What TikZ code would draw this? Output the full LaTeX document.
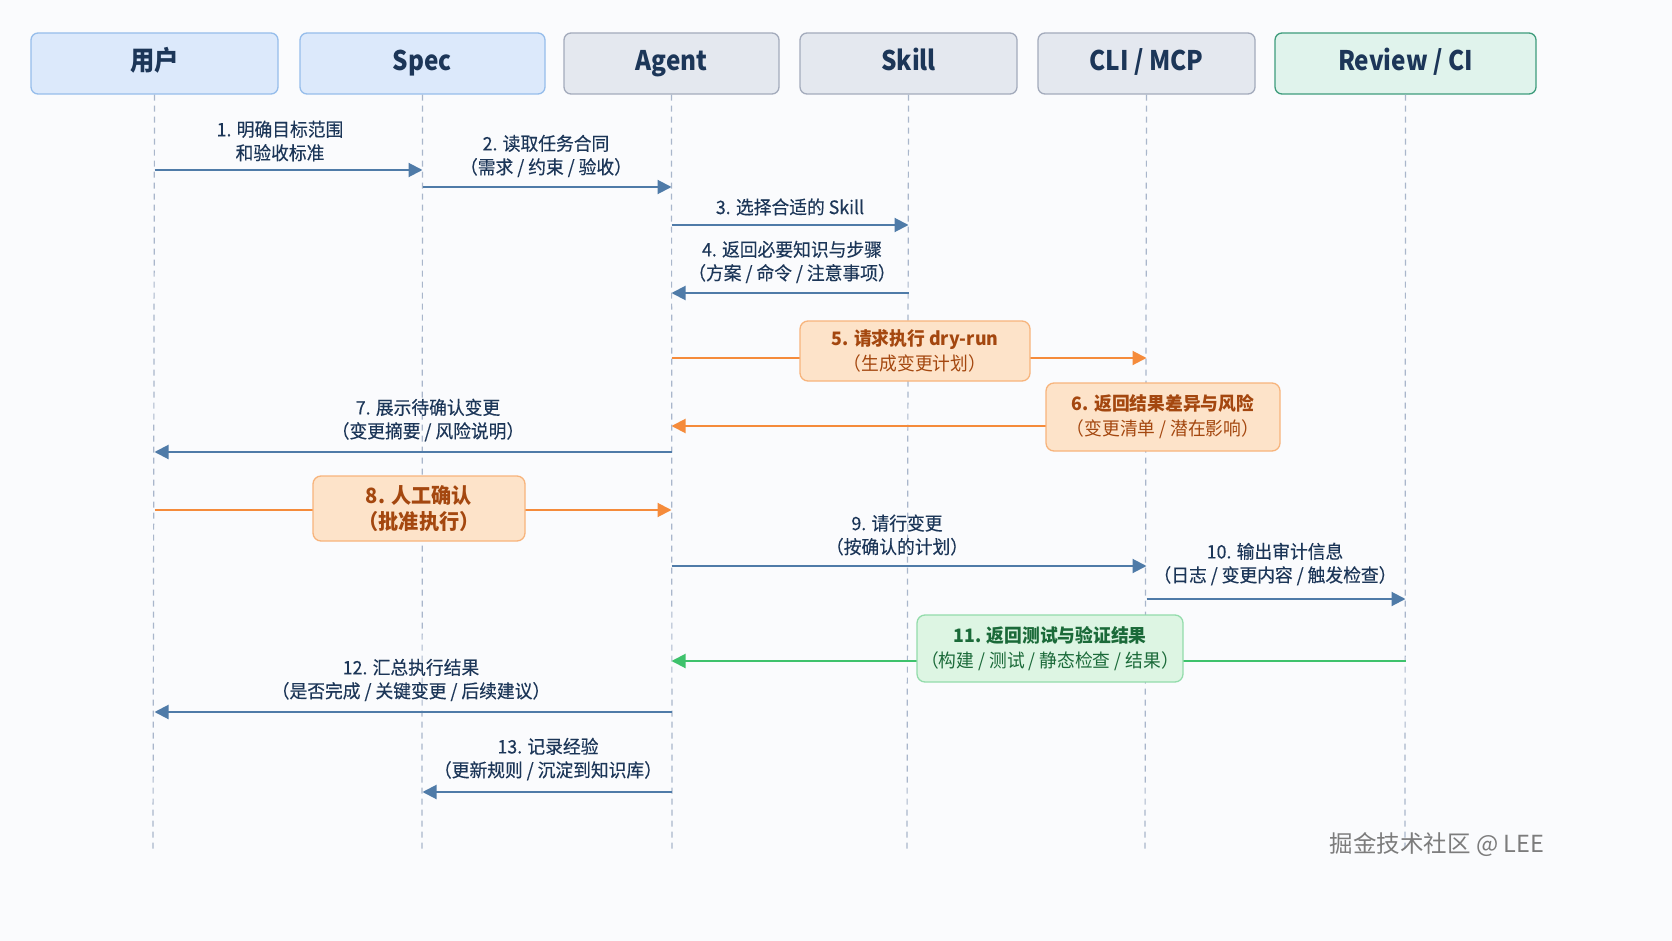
\documentclass[tikz,border=0pt]{standalone}
\usepackage{fontspec}
\setmainfont{Noto Sans CJK SC}
\newfontfamily\hdrfont[FakeStretch=0.9]{Noto Sans CJK SC}
\newfontfamily\lblfont[FakeStretch=0.96,FakeBold=0.3]{Noto Sans CJK SC}
\newfontfamily\boxfont[FakeStretch=0.96]{Noto Sans CJK SC}
\usetikzlibrary{arrows.meta}
\definecolor{bgc}{HTML}{FAFBFD}
\definecolor{navy}{HTML}{1C3658}
\definecolor{lifec}{HTML}{A9B6CB}
\definecolor{msgc}{HTML}{4F7BA8}
\definecolor{bluefill}{HTML}{DCE9FB}
\definecolor{blueline}{HTML}{96BDEB}
\definecolor{grayfill}{HTML}{E4E8EF}
\definecolor{grayline}{HTML}{A3ABBC}
\definecolor{greenfill}{HTML}{E0F3EC}
\definecolor{greenline}{HTML}{3E9C7C}
\definecolor{orc}{HTML}{F58B3B}
\definecolor{orfill}{HTML}{FDE3C9}
\definecolor{orline}{HTML}{F7B47C}
\definecolor{ortext}{HTML}{A4470F}
\definecolor{grc}{HTML}{3EC26C}
\definecolor{grfill}{HTML}{DDF5E3}
\definecolor{grline}{HTML}{93DCAB}
\definecolor{grtext}{HTML}{1B6A39}
\definecolor{wmc}{HTML}{7C7C7C}
\begin{document}
\begin{tikzpicture}[x=1pt,y=-1pt,
  hdr/.style={draw, rounded corners=7pt, line width=1.3pt, minimum width=#1,
    minimum height=61pt, inner sep=0pt, text=navy, text height=20pt, text depth=6pt,
    font=\hdrfont\bfseries\fontsize{27}{30}\selectfont},
  hblue/.style={fill=bluefill, draw=blueline},
  hgray/.style={fill=grayfill, draw=grayline},
  hgreen/.style={fill=greenfill, draw=greenline},
  life/.style={draw=lifec, line width=1.2pt, dash pattern=on 6pt off 5pt},
  msg/.style={draw=msgc, line width=2pt, -{Triangle[length=14pt,width=14pt]}},
  omsg/.style={draw=orc, line width=2pt, -{Triangle[length=14pt,width=14pt]}},
  gmsg/.style={draw=grc, line width=2pt, -{Triangle[length=14pt,width=14pt]}},
  lbl/.style={align=center, text=navy, inner sep=0pt,
    font=\lblfont\fontsize{18.5}{23.5}\selectfont},
  obox/.style={draw=orline, fill=orfill, line width=1.3pt, rounded corners=8pt,
    align=center, text=ortext, inner sep=0pt,
    font=\boxfont\bfseries\fontsize{18.5}{25}\selectfont},
  gbox/.style={draw=grline, fill=grfill, line width=1.3pt, rounded corners=8pt,
    align=center, text=grtext, inner sep=0pt,
    font=\boxfont\bfseries\fontsize{18.5}{25}\selectfont},
]
\useasboundingbox (0,0) rectangle (1672,941);
\fill[bgc] (0,0) rectangle (1672,941);

% headers
\node[hdr=247, hblue] (u) at (154.5,63.5) {用户};
\node[hdr=245, hblue] (s) at (422.5,63.5) {Spec};
\node[hdr=215, hgray] (a) at (671.5,63.5) {Agent};
\node[hdr=217, hgray] (k) at (908.5,63.5) {Skill};
\node[hdr=217, hgray] (c) at (1146.5,63.5) {CLI / MCP};
\node[hdr=261, hgreen] (r) at (1405.5,63.5) {Review / CI};

% lifelines
\coordinate (ue) at (153,852);
\coordinate (se) at (422,852);
\coordinate (ae) at (672,852);
\coordinate (ke) at (907,852);
\coordinate (ce) at (1145,852);
\coordinate (re) at (1405,852);
\draw[life] (u.south) -- (ue);
\draw[life] (s.south) -- (se);
\draw[life] (a.south) -- (ae);
\draw[life] (k.south) -- (ke);
\draw[life] (c.south) -- (ce);
\draw[life] (r.south) -- (re);

% 1
\draw[msg] (u |- 0,170) -- (s |- 0,170);
\node[lbl] (l1) at (280,141) {1. 明确目标范围\\和验收标准};
% 2
\draw[msg] (s |- 0,187) -- (a |- 0,187);
\node[lbl] (l2) at (546,156) {2. 读取任务合同\\（需求 / 约束 / 验收）};
% 3
\draw[msg] (a |- 0,225) -- (k |- 0,225);
\node[lbl] (l3) at (790,207) {3. 选择合适的 Skill};
% 4
\draw[msg] (k |- 0,293) -- (a |- 0,293);
\node[lbl] (l4) at (792,262) {4. 返回必要知识与步骤\\（方案 / 命令 / 注意事项）};
% 5
\draw[omsg] (a |- 0,358) -- (c |- 0,358);
\node[obox, minimum width=230pt, minimum height=60pt] (b5) at (915,351)
  {5. 请求执行 dry-run\\\mdseries（生成变更计划）};
% 6
\draw[omsg] (c |- 0,426) -- (a |- 0,426);
\node[obox, minimum width=234pt, minimum height=68pt] (b6) at (1163,417)
  {6. 返回结果差异与风险\\\mdseries（变更清单 / 潜在影响）};
% 7
\draw[msg] (a |- 0,452) -- (u |- 0,452);
\node[lbl] (l7) at (428,420) {7. 展示待确认变更\\（变更摘要 / 风险说明）};
% 8
\draw[omsg] (u |- 0,510) -- (a |- 0,510);
\node[obox, minimum width=212pt, minimum height=65pt,
  font=\boxfont\bfseries\fontsize{21}{26}\selectfont] (b8) at (419,508.5)
  {8. 人工确认\\（批准执行）};
% 9
\draw[msg] (a |- 0,566) -- (c |- 0,566);
\node[lbl] (l9) at (897,535) {9. 请行变更\\（按确认的计划）};
% 10
\draw[msg] (c |- 0,599) -- (r |- 0,599);
\node[lbl] (l10) at (1275,564) {10. 输出审计信息\\（日志 / 变更内容 / 触发检查）};
% 11
\draw[gmsg] (r |- 0,661) -- (a |- 0,661);
\node[gbox, minimum width=266pt, minimum height=67pt] (b11) at (1050,648.5)
  {11. 返回测试与验证结果\\\mdseries（构建 / 测试 / 静态检查 / 结果）};
% 12
\draw[msg] (a |- 0,712) -- (u |- 0,712);
\node[lbl] (l12) at (411,680) {12. 汇总执行结果\\（是否完成 / 关键变更 / 后续建议）};
% 13
\draw[msg] (a |- 0,792) -- (s |- 0,792);
\node[lbl] (l13) at (548,759) {13. 记录经验\\（更新规则 / 沉淀到知识库）};

% watermark
\node[text=wmc, inner sep=0pt, font=\fontsize{23.5}{26}\selectfont] (wm) at (1437,845)
  {掘金技术社区 @ LEE};
\end{tikzpicture}
\end{document}
